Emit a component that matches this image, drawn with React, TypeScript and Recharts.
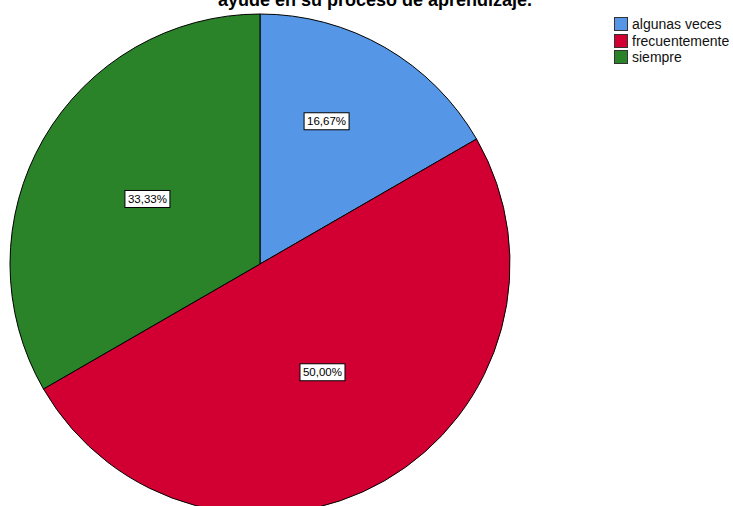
import { Cell, Legend, Pie, PieChart } from 'recharts'

// categorías y porcentajes
const categories = ['algunas veces', 'frecuentemente', 'siempre']
const percentages = [16.67, 50.0, 33.33]
const colors = ['#5597E6', '#D20032', '#2A8229']

const titleLine = 'ayude en su proceso de aprendizaje.'

const data = categories.map((name, i) => ({ name, value: percentages[i] }))

const RADIAN = Math.PI / 180
// distancia y giro de cada etiqueta respecto al ángulo medio del sector
const labelDistance = [0.63, 0.5, 0.52]
const labelAngleShift = [5, 0, 0]

const formatPct = (v: number) => v.toFixed(2).replace('.', ',') + '%'

function renderLabel(props: any) {
  const { cx, cy, midAngle, outerRadius, index, value } = props
  const r = outerRadius * labelDistance[index]
  const a = (midAngle + labelAngleShift[index]) * RADIAN
  const x = cx + r * Math.cos(-a)
  const y = cy + r * Math.sin(-a)
  const text = formatPct(value)
  const w = 45
  const h = 17
  return (
    <g>
      <rect x={x - w / 2} y={y - h / 2} width={w} height={h} fill="#FFFFFF" stroke="#000000" strokeWidth={1} />
      <text
        x={x}
        y={y + 4}
        textAnchor="middle"
        fontSize={11.5}
        fontFamily="'Liberation Sans', Arial, sans-serif"
        fill="#000000"
      >
        {text}
      </text>
    </g>
  )
}

function LegendBox() {
  return (
    <div style={{ fontFamily: "'Liberation Sans', Arial, sans-serif", fontSize: 14, color: '#111' }}>
      {categories.map((c, i) => (
        <div key={c} style={{ display: 'flex', alignItems: 'center', height: 16.5 }}>
          <span
            style={{
              display: 'inline-block',
              width: 12,
              height: 12,
              background: colors[i],
              border: '1px solid #333',
              marginRight: 4,
              flexShrink: 0
            }}
          />
          <span style={{ whiteSpace: 'nowrap' }}>{c}</span>
        </div>
      ))}
    </div>
  )
}

export default function App() {
  return (
    <div style={{ position: 'absolute', left: 0, top: 0, width: 733, height: 506, overflow: 'hidden', background: '#fff' }}>
      <PieChart width={733} height={506} margin={{ top: 0, right: 0, bottom: 0, left: 0 }}>
        <Pie
          data={data}
          dataKey="value"
          nameKey="name"
          cx={260}
          cy={264}
          outerRadius={250}
          startAngle={90}
          endAngle={-270}
          stroke="#000000"
          strokeWidth={1}
          label={renderLabel}
          labelLine={false}
          isAnimationActive={false}
        >
          {data.map((d, i) => (
            <Cell key={d.name} fill={colors[i]} />
          ))}
        </Pie>
        <Legend
          content={() => <LegendBox />}
          wrapperStyle={{ position: 'absolute', left: 614, top: 16, width: 125 }}
        />
      </PieChart>
      <svg width={733} height={30} style={{ position: 'absolute', left: 0, top: 0, pointerEvents: 'none' }}>
        <text
          x={375}
          y={6}
          textAnchor="middle"
          fontSize={18}
          fontWeight="bold"
          fontFamily="'Liberation Sans', Arial, sans-serif"
          fill="#000000"
        >
          {titleLine}
        </text>
      </svg>
    </div>
  )
}
